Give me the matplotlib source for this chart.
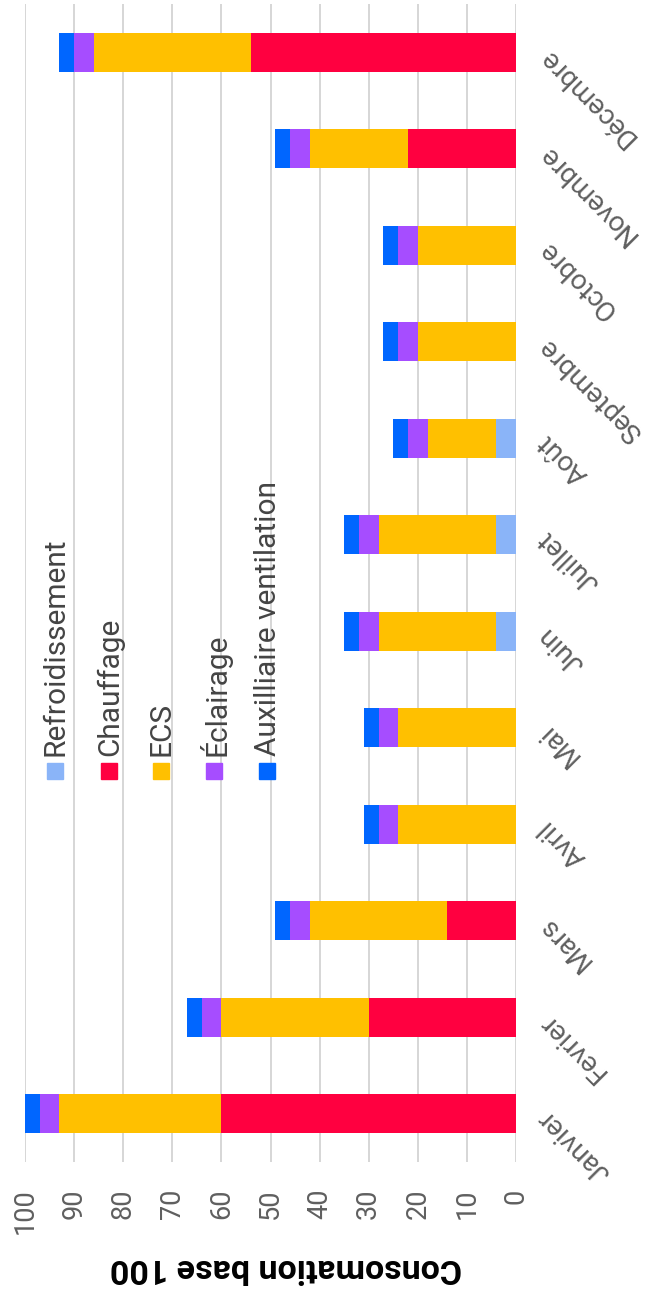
import numpy as np
import matplotlib.pyplot as plt
from matplotlib.patches import Rectangle

mois = ["Janvier", "Fevrier", "Mars", "Avril", "Mai", "Juin", "Juillet",
        "Août", "Septembre", "Octobre", "Novembre", "Décembre"]
refroidissement = [0, 0, 0, 0, 0, 4, 4, 4, 0, 0, 0, 0]
chauffage = [60, 30, 14, 0, 0, 0, 0, 0, 0, 0, 22, 54]
ecs = [33, 30, 28, 24, 24, 24, 24, 14, 20, 20, 20, 32]
eclairage = [4, 4, 4, 4, 4, 4, 4, 4, 4, 4, 4, 4]
auxiliaire = [3, 3, 3, 3, 3, 3, 3, 3, 3, 3, 3, 3]

noms = ["Refroidissement", "Chauffage", "ECS", "Éclairage", "Auxilliaire ventilation"]
couleurs = ["#8ab4f8", "#ff0040", "#ffc000", "#a64dff", "#0066ff"]

plt.rcParams['font.family'] = ['Roboto', 'DejaVu Sans']

W, H = 660, 1292
fig = plt.figure(figsize=(W / 100, H / 100), dpi=100)
ax = fig.add_axes([25 / W, 1 - 1162 / H, (516 - 25) / W, (1162 - 4) / H])

y = np.arange(len(mois))
left = np.zeros(len(mois))
for nom, vals, c in zip(noms, [refroidissement, chauffage, ecs, eclairage, auxiliaire], couleurs):
    ax.barh(y, vals, left=left, height=0.4, color=c, zorder=3)
    left += np.array(vals)

ax.set_xlim(100, 0)
ax.set_ylim(-0.5, 11.5)
ax.set_xticks(range(0, 101, 10))
ax.grid(axis='x', color='#d6d6d6', lw=1.4, zorder=0)
for s in ax.spines.values():
    s.set_visible(False)
ax.tick_params(axis='x', length=0, pad=19, labelsize=19.5, labelcolor='#5f5f5f', labelrotation=90)

ax.yaxis.tick_right()
ax.set_yticks(y)
ax.set_yticklabels(mois, rotation=135, rotation_mode='anchor', ha='right', va='center',
                   fontsize=20, color='#5f5f5f')
ax.tick_params(axis='y', length=0, pad=19)

# legende verticale
leg_x = [55, 108.7, 161, 214, 267.3]
for x, nom, c in zip(leg_x, noms, couleurs):
    fig.add_artist(Rectangle(((x - 8) / W, 1 - 779 / H), 16 / W, 16 / H,
                             transform=fig.transFigure, color=c, zorder=5))
    fig.text((x + 1) / W, 1 - 756 / H, nom, rotation=90, ha='center', va='bottom',
             fontsize=21.5, color='#444444', zorder=5)

fig.text(286 / W, 1 - 1268 / H, "Consomation base 100", rotation=180, ha='center', va='center',
         fontsize=24.5, fontweight='bold')

fig.savefig("out.png", dpi=100)
